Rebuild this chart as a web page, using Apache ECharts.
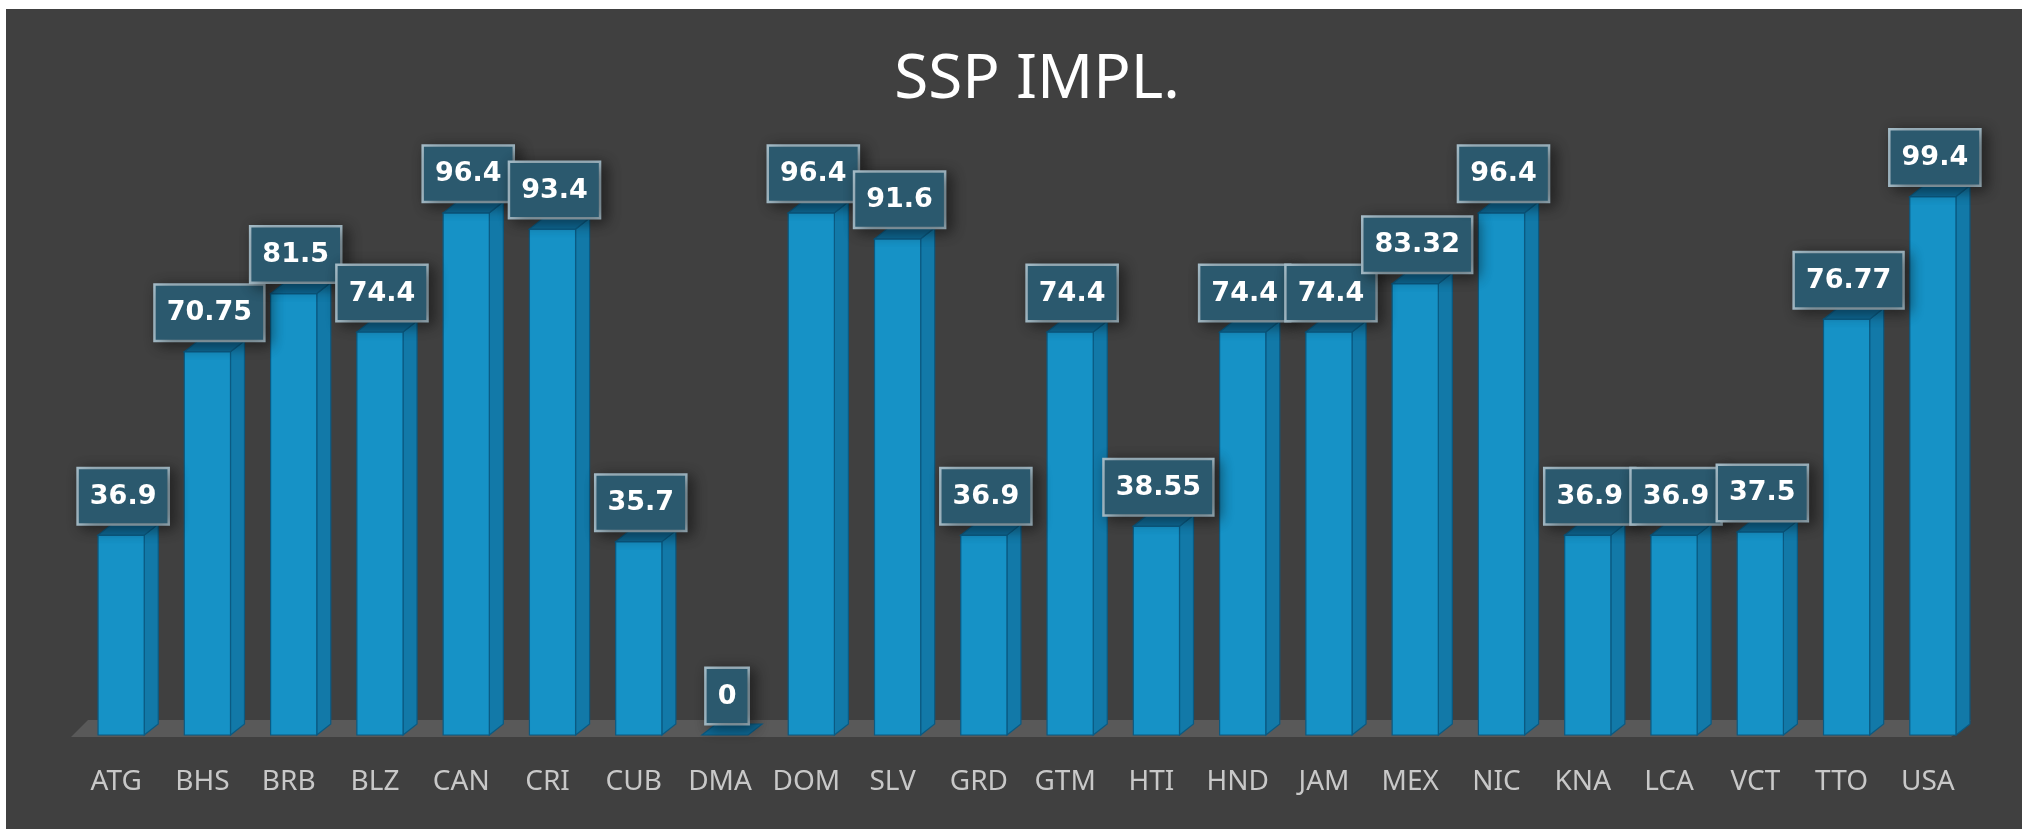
<!DOCTYPE html>
<html>
<head>
<meta charset="utf-8">
<script src="https://cdn.jsdelivr.net/npm/echarts@6/dist/echarts.min.js"></script>
<style>
html,body{margin:0;padding:0;background:#ffffff;}
#chart{width:2022px;height:829px;}
</style>
</head>
<body>
<div id="chart"></div>
<script>
var categories = ['ATG','BHS','BRB','BLZ','CAN','CRI','CUB','DMA','DOM','SLV','GRD','GTM','HTI','HND','JAM','MEX','NIC','KNA','LCA','VCT','TTO','USA'];
var values = [36.9, 70.75, 81.5, 74.4, 96.4, 93.4, 35.7, 0, 96.4, 91.6, 36.9, 74.4, 38.55, 74.4, 74.4, 83.32, 96.4, 36.9, 36.9, 37.5, 76.77, 99.4];
var titleText = 'SSP IMPL.';

var DX = 14, DY = 11;

var chart = echarts.init(document.getElementById('chart'), null, {renderer: 'canvas'});

function renderBar(params, api) {
  var idx = api.value(0), val = api.value(1);
  var top = api.coord([idx, val]);
  var base = api.coord([idx, 0]);
  var band = api.size([1, 0])[0];
  var w = band * 0.535;
  var cx = top[0] + 5;
  var fl = cx - w / 2, fr = cx + w / 2;
  var ft = top[1], fb = base[1];
  var stroke = '#0b5a82';
  var children = [];
  if (fb - ft > 0.5) {
    children.push({
      type: 'polygon',
      shape: {points: [[fr, ft], [fr + DX, ft - DY], [fr + DX, fb - DY], [fr, fb]]},
      style: {fill: '#1279a8', stroke: stroke, lineWidth: 1.2}
    });
    children.push({
      type: 'rect',
      shape: {x: fl, y: ft, width: w, height: fb - ft},
      style: {fill: '#1692c6', stroke: stroke, lineWidth: 1.2}
    });
  }
  children.push({
    type: 'polygon',
    shape: {points: [[fl, ft], [fr, ft], [fr + DX, ft - DY], [fl + DX, ft - DY]]},
    style: {fill: '#0f6a96', stroke: stroke, lineWidth: 1.2}
  });
  children.push({
    type: 'text',
    z2: 100,
    style: {
      text: String(values[idx]),
      x: cx + 2,
      y: ft - DY - 1,
      align: 'center',
      verticalAlign: 'bottom',
      font: 'bold 27px "DejaVu Sans"',
      fill: '#ffffff',
      lineHeight: 31,
      backgroundColor: '#2b596e',
      borderColor: '#a7bfcb',
      borderWidth: 2.5,
      padding: [12, 11, 11, 11],
      shadowColor: 'rgba(0,0,0,0.45)',
      shadowBlur: 14,
      shadowOffsetX: 5,
      shadowOffsetY: 3
    }
  });
  return {type: 'group', children: children};
}

function renderFloor(params, api) {
  var cs = params.coordSys;
  var y = api.coord([0, 0])[1];
  var left = cs.x - 2, right = cs.x + cs.width;
  return {
    type: 'polygon',
    shape: {points: [[left, y + 2], [right - 20, y + 2], [right, y - 15], [left + 17, y - 15]]},
    style: {fill: '#595959'}
  };
}

var barData = categories.map(function (c, i) { return [i, values[i]]; });

chart.setOption({
  backgroundColor: '#ffffff',
  animation: false,
  graphic: [{
    type: 'rect',
    z: -10,
    shape: {x: 6, y: 9, width: 2022 - 6, height: 829 - 9},
    style: {fill: '#404040'}
  }, {
    type: 'text',
    z: 10,
    style: {
      text: titleText,
      x: 1037,
      y: 80,
      align: 'center',
      verticalAlign: 'middle',
      font: '62px "Noto Sans"',
      fill: '#ffffff'
    }
  }],
  grid: {left: 73, right: 51, top: 85, bottom: 94},
  xAxis: {
    type: 'category',
    data: categories,
    axisLine: {show: false},
    axisTick: {show: false},
    axisLabel: {
      color: '#c8c8c8',
      fontFamily: 'Noto Sans',
      fontSize: 28,
      lineHeight: 28,
      margin: 33,
      interval: 0
    }
  },
  yAxis: {
    type: 'value',
    min: 0,
    max: 120,
    show: false,
    splitLine: {show: false}
  },
  series: [
    {
      type: 'custom',
      name: 'floor',
      z: 1,
      renderItem: renderFloor,
      data: [[0, 0]],
      silent: true
    },
    {
      type: 'custom',
      name: 'SSP IMPL.',
      z: 2,
      renderItem: renderBar,
      encode: {x: 0, y: 1},
      data: barData
    }
  ]
});
</script>
</body>
</html>
